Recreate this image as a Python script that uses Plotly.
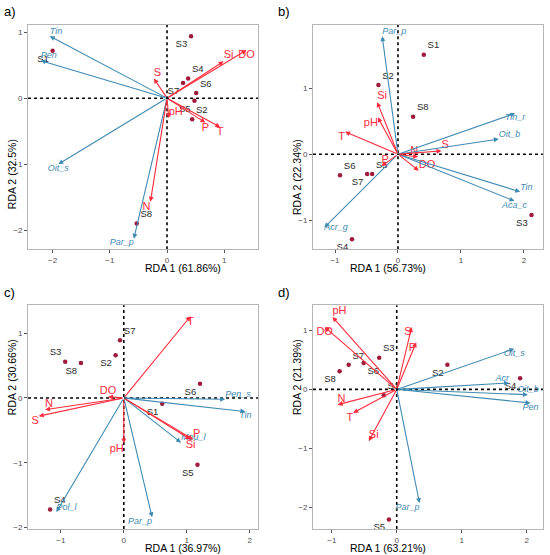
import plotly.graph_objects as go

# ---- panel a ----
a_sp_names = ["Tin", "Pen", "Oit_s", "Par_p"]
a_sp_x = [-2.05, -2.21, -1.90, -0.58]
a_sp_y = [0.94, 0.57, -1.00, -2.13]
a_env_names = ["S", "Si", "DO", "pH", "P", "T", "N"]
a_env_x = [-0.23, 0.99, 1.39, 0.03, 0.67, 0.93, -0.29]
a_env_y = [0.30, 0.56, 0.73, -0.30, -0.37, -0.44, -1.57]
a_site_names = ["S3", "S1", "S4", "S7", "S6", "S5", "S2", "S8"]
a_site_x = [0.42, -2.00, 0.37, 0.28, 0.51, 0.48, 0.44, -0.53]
a_site_y = [0.94, 0.72, 0.30, 0.23, 0.08, -0.04, -0.32, -1.90]

# ---- panel b ----
b_sp_names = ["Par_p", "Tin_r", "Oit_b", "Tin", "Aca_c", "Acr_g"]
b_sp_x = [-0.25, 1.86, 1.60, 1.94, 1.85, -1.17]
b_sp_y = [1.79, 0.62, 0.23, -0.57, -0.71, -1.11]
b_env_names = ["Si", "pH", "T", "N", "S", "P", "DO"]
b_env_x = [-0.33, -0.32, -0.84, 0.32, 0.69, -0.26, 0.33]
b_env_y = [0.79, 0.56, 0.34, -0.04, 0.05, -0.18, -0.25]
b_site_names = ["S1", "S2", "S8", "S6", "S7", "S5", "S3", "S4"]
b_site_x = [0.41, -0.31, 0.24, -0.92, -0.49, -0.41, 2.12, -0.73]
b_site_y = [1.51, 1.05, 0.57, -0.32, -0.30, -0.30, -0.92, -1.29]

# ---- panel c ----
c_sp_names = ["Pen_s", "Tin", "Mou_l", "Par_p", "Pol_l"]
c_sp_x = [1.61, 1.93, 0.91, 0.45, -1.07]
c_sp_y = [-0.02, -0.21, -0.69, -1.84, -1.76]
c_env_names = ["T", "DO", "N", "S", "pH", "P", "Si"]
c_env_x = [1.06, -0.25, -1.25, -1.35, 0.00, 1.10, 1.06]
c_env_y = [1.26, 0.02, -0.18, -0.28, -0.70, -0.64, -0.64]
c_site_names = ["S7", "S2", "S3", "S8", "S6", "S1", "S5", "S4"]
c_site_x = [-0.06, -0.13, -0.93, -0.68, 1.21, 0.61, 1.17, -1.17]
c_site_y = [0.89, 0.66, 0.56, 0.54, 0.22, -0.09, -1.03, -1.72]

# ---- panel d ----
d_sp_names = ["Oit_s", "Acr", "Oit_b", "Pen", "Par_p"]
d_sp_x = [1.81, 1.73, 2.02, 2.06, 0.35]
d_sp_y = [0.69, 0.11, -0.09, -0.23, -1.93]
d_env_names = ["pH", "DO", "S", "P", "N", "T", "Si"]
d_env_x = [-0.99, -1.11, 0.23, 0.30, -0.91, -0.67, -0.43]
d_env_y = [1.23, 1.06, 1.06, 0.80, -0.26, -0.40, -0.88]
d_site_names = ["S3", "S7", "S6", "S8", "S1", "S2", "S4", "S5"]
d_site_x = [-0.27, -0.74, -0.51, -0.88, -0.20, 0.78, 1.90, -0.12]
d_site_y = [0.54, 0.42, 0.45, 0.31, -0.10, 0.42, 0.19, -2.21]

# label placement (style only)
a_sp_pos = ["top right", "top right", "bottom center", "bottom left"]
a_env_pos = ["top right", "top right", "bottom center", "top right", "bottom center", "bottom center", "bottom left"]
a_site_pos = ["bottom left", "bottom left", "top right", "bottom left", "top right", "bottom left", "top right", "top right"]
b_sp_pos = ["top right", "bottom center", "top right", "top right", "bottom center", "middle right"]
b_env_pos = ["top right", "bottom left", "bottom left", "top left", "top right", "top right", "top right"]
b_site_pos = ["top right", "top right", "top right", "top right", "bottom left", "top right", "bottom left", "bottom left"]
c_sp_pos = ["top right", "bottom center", "top right", "bottom left", "top right"]
c_env_pos = ["bottom center", "top center", "top right", "bottom left", "bottom left", "top right", "bottom center"]
c_site_pos = ["top right", "bottom left", "top left", "bottom left", "bottom left", "bottom left", "bottom left", "top right"]
d_sp_pos = ["bottom center", "top left", "top center", "bottom center", "bottom left"]
d_env_pos = ["top right", "bottom center", "bottom left", "bottom left", "top right", "bottom left", "top right"]
d_site_pos = ["top right", "top right", "bottom right", "bottom left", "top right", "bottom left", "bottom left", "bottom left"]

BLUE = "#3f8ab2"
RED = "#ff2b3b"
PT = "#9e1b3c"
FONT = "Liberation Sans"
W, H = 550, 555

fig = go.Figure()


def add_panel(n, sp, env, site, xr, yr, xt, yt, dom_x, dom_y, xtitle, ytitle, letter, letter_x):
    xa = "x" if n == 1 else "x%d" % n
    ya = "y" if n == 1 else "y%d" % n
    sp_names, sp_x, sp_y, sp_pos = sp
    env_names, env_x, env_y, env_pos = env
    site_names, site_x, site_y, site_pos = site

    # zero lines
    fig.add_shape(type="line", xref=xa, yref=ya + " domain", x0=0, x1=0, y0=0, y1=1,
                  line=dict(color="black", width=1.6, dash="dot"), layer="below")
    fig.add_shape(type="line", xref=xa + " domain", yref=ya, x0=0, x1=1, y0=0, y1=0,
                  line=dict(color="black", width=1.6, dash="dot"), layer="below")

    # arrows
    for xs, ys, col in [(sp_x, sp_y, BLUE), (env_x, env_y, RED)]:
        for x, y in zip(xs, ys):
            fig.add_annotation(x=x, y=y, ax=0, ay=0, xref=xa, yref=ya, axref=xa, ayref=ya,
                               text="", showarrow=True, arrowhead=2, arrowsize=0.9,
                               arrowwidth=1.1, arrowcolor=col)

    fig.add_trace(go.Scatter(x=site_x, y=site_y, mode="markers+text", text=site_names,
                             textposition=site_pos, xaxis=xa, yaxis=ya, cliponaxis=False,
                             marker=dict(color=PT, size=4.5),
                             textfont=dict(color="#2b2b2b", size=9.5, family=FONT)))
    fig.add_trace(go.Scatter(x=sp_x, y=sp_y, mode="text", text=["<i>%s</i>" % s for s in sp_names],
                             textposition=sp_pos, xaxis=xa, yaxis=ya, cliponaxis=False,
                             textfont=dict(color=BLUE, size=9, family=FONT)))
    fig.add_trace(go.Scatter(x=env_x, y=env_y, mode="text", text=env_names,
                             textposition=env_pos, xaxis=xa, yaxis=ya, cliponaxis=False,
                             textfont=dict(color=RED, size=11, family=FONT)))

    ax_common = dict(showgrid=False, zeroline=False, showline=True, mirror=True,
                     linecolor="#b5b5b5", linewidth=1, ticks="outside", ticklen=3,
                     tickcolor="#555", automargin=False,
                     tickfont=dict(size=8, color="#4d4d4d", family=FONT))
    fig.layout[("xaxis" if n == 1 else "xaxis%d" % n)] = dict(
        ax_common, domain=dom_x, range=xr, tickvals=xt, anchor=ya)
    fig.layout[("yaxis" if n == 1 else "yaxis%d" % n)] = dict(
        ax_common, domain=dom_y, range=yr, tickvals=yt, anchor=xa)

    # axis titles, placed just outside the tick labels
    title_font = dict(size=10.5, color="black", family=FONT)
    fig.add_annotation(text=xtitle, xref="paper", yref="paper", showarrow=False,
                       x=sum(dom_x) / 2, y=dom_y[0] - 19 / H, yanchor="middle", font=title_font)
    fig.add_annotation(text=ytitle, xref="paper", yref="paper", showarrow=False, textangle=-90,
                       x=dom_x[0] - 16 / W, y=sum(dom_y) / 2, xanchor="center", font=title_font)
    fig.add_annotation(text=letter, xref="paper", yref="paper", x=letter_x, y=dom_y[1] + 13 / H,
                       xanchor="left", yanchor="middle", showarrow=False,
                       font=dict(size=13, color="black", family=FONT))


add_panel(1, (a_sp_names, a_sp_x, a_sp_y, a_sp_pos), (a_env_names, a_env_x, a_env_y, a_env_pos),
          (a_site_names, a_site_x, a_site_y, a_site_pos),
          [-2.43, 1.59], [-2.29, 1.11], [-2, -1, 0, 1], [-2, -1, 0, 1],
          [0.051, 0.469], [0.551, 0.955], "RDA 1 (61.86%)", "RDA 2 (32.5%)", "a)", 0.004)
add_panel(2, (b_sp_names, b_sp_x, b_sp_y, b_sp_pos), (b_env_names, b_env_x, b_env_y, b_env_pos),
          (b_site_names, b_site_x, b_site_y, b_site_pos),
          [-1.35, 2.30], [-1.44, 1.96], [-1, 0, 1, 2], [-1, 0, 1],
          [0.569, 0.987], [0.551, 0.955], "RDA 1 (56.73%)", "RDA 2 (22.34%)", "b)", 0.501)
add_panel(3, (c_sp_names, c_sp_x, c_sp_y, c_sp_pos), (c_env_names, c_env_x, c_env_y, c_env_pos),
          (c_site_names, c_site_x, c_site_y, c_site_pos),
          [-1.52, 2.13], [-2.02, 1.43], [-1, 0, 1, 2], [-2, -1, 0, 1],
          [0.051, 0.469], [0.047, 0.450], "RDA 1 (36.97%)", "RDA 2 (30.66%)", "c)", 0.004)
add_panel(4, (d_sp_names, d_sp_x, d_sp_y, d_sp_pos), (d_env_names, d_env_x, d_env_y, d_env_pos),
          (d_site_names, d_site_x, d_site_y, d_site_pos),
          [-1.29, 2.25], [-2.37, 1.43], [-1, 0, 1, 2], [-2, -1, 0, 1],
          [0.569, 0.987], [0.047, 0.450], "RDA 1 (63.21%)", "RDA 2 (21.39%)", "d)", 0.501)

fig.update_layout(width=W, height=H, margin=dict(l=0, r=0, t=0, b=0, autoexpand=False),
                  plot_bgcolor="white", paper_bgcolor="white", showlegend=False,
                  font=dict(family=FONT))
# page has a default 8px body margin; drop it so the figure fills the window
fig.write_html("out.html", config={"displayModeBar": False},
               post_script="document.body.style.margin='0px';")
